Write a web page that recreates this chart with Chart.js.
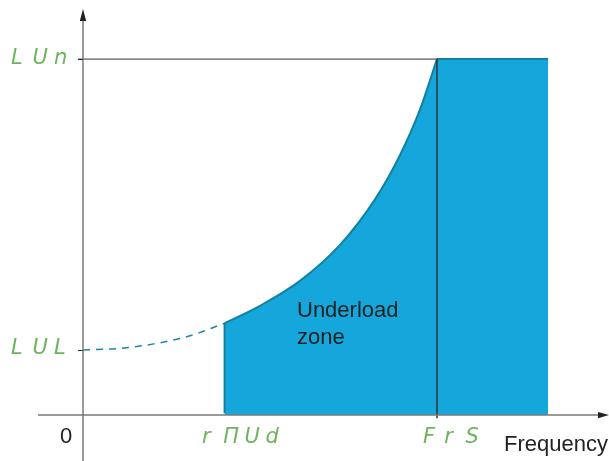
<!DOCTYPE html>
<html>
<head>
<meta charset="utf-8">
<script src="https://cdn.jsdelivr.net/npm/chart.js@4.4.1/dist/chart.umd.min.js"></script>
<style>
  html, body { margin: 0; padding: 0; background: #fff; }
  canvas { display: block; }
</style>
</head>
<body>
<canvas id="chart" width="609" height="461"></canvas>
<script>
// levels and frequencies (FrS = 100, LUn = 100)
const levels = { LUn: 100, LUL: 18.3 };
const freqs = { rMUd: 40, FrS: 100, end: 131.4 };

// underload curve
const curveF = [40, 50.0, 61.3, 72.6, 82.5, 89.5, 95.2, 100];
const curveL = [25.8, 30.7, 37.7, 47.8, 60.6, 72.9, 85.8, 100];

// dashed part below rMUd
const dashF = [0, 10, 20, 30, 40];
const dashL = [18.3, 18.7, 20.0, 22.2, 25.8];

const xLabels = [
  { chars: ['r', 'Π', 'U', 'd'], value: freqs.rMUd, left: 202 },
  { chars: ['F', 'r', 'S'], value: freqs.FrS, left: 423 }
];
const yLabels = [
  { chars: ['L', 'U', 'n'], value: levels.LUn },
  { chars: ['L', 'U', 'L'], value: levels.LUL }
];

const pts = (xs, ys) => xs.map((x, i) => ({ x: x, y: ys[i] }));

const blue = '#15a6dc';
const edge = '#10819f';
const green = '#6db55c';

const extras = {
  id: 'extras',
  afterDatasetsDraw(chart) {
    const ctx = chart.ctx;
    const xs = chart.scales.x, ys = chart.scales.y;
    const x0 = xs.getPixelForValue(0), y0 = ys.getPixelForValue(0);
    ctx.save();

    // axes
    ctx.strokeStyle = '#7a7a7a';
    ctx.lineWidth = 1.5;
    ctx.beginPath();
    ctx.moveTo(38, y0); ctx.lineTo(601, y0);
    ctx.moveTo(x0, 461); ctx.lineTo(x0, 18);
    ctx.stroke();

    // arrow heads
    ctx.fillStyle = '#222';
    ctx.beginPath();
    ctx.moveTo(x0, 9); ctx.lineTo(x0 - 3.2, 21); ctx.lineTo(x0 + 3.2, 21);
    ctx.closePath(); ctx.fill();
    ctx.beginPath();
    ctx.moveTo(609, y0); ctx.lineTo(598, y0 - 3.2); ctx.lineTo(598, y0 + 3.2);
    ctx.closePath(); ctx.fill();

    // ticks on y axis
    ctx.strokeStyle = '#333';
    ctx.lineWidth = 1;
    yLabels.forEach(l => {
      const y = Math.round(ys.getPixelForValue(l.value)) + 0.5;
      ctx.beginPath(); ctx.moveTo(x0 - 5, y); ctx.lineTo(x0, y); ctx.stroke();
    });

    // seven-segment style labels
    ctx.fillStyle = green;
    ctx.font = 'oblique 300 21px "DejaVu Sans"';
    ctx.textBaseline = 'middle';
    ctx.textAlign = 'left';
    yLabels.forEach(l => {
      const y = ys.getPixelForValue(l.value);
      l.chars.forEach((c, i) => ctx.fillText(c, 11 + i * 21.5, y - 1));
    });
    xLabels.forEach(l => {
      l.chars.forEach((c, i) => ctx.fillText(c, l.left + i * 21.2, 438));
    });

    // plain texts
    ctx.fillStyle = '#222';
    ctx.font = '22px "Liberation Sans", Arial, sans-serif';
    ctx.textBaseline = 'alphabetic';
    ctx.fillText('Underload', 297, 317);
    ctx.fillText('zone', 297, 344);
    ctx.fillText('0', 60, 443);
    ctx.fillText('Frequency', 504, 451);
    ctx.restore();
  }
};

new Chart(document.getElementById('chart'), {
  type: 'line',
  data: {
    datasets: [
      {
        label: 'Underload zone',
        data: pts(curveF, curveL),
        fill: 'origin',
        backgroundColor: blue,
        borderColor: edge,
        borderWidth: 2,
        cubicInterpolationMode: 'monotone',
        pointRadius: 0,
        order: 3
      },
      {
        label: 'Above FrS',
        data: [{ x: freqs.FrS, y: levels.LUn }, { x: freqs.end, y: levels.LUn }],
        fill: 'origin',
        backgroundColor: blue,
        borderColor: edge,
        borderWidth: 2,
        pointRadius: 0,
        order: 3
      },
      {
        label: 'rMUd edge',
        data: [{ x: freqs.rMUd, y: 0.5 }, { x: freqs.rMUd, y: curveL[0] }],
        borderColor: edge,
        borderWidth: 2,
        pointRadius: 0,
        order: 1
      },
      {
        label: 'below rMUd',
        data: pts(dashF, dashL),
        borderColor: '#1a86a6',
        borderWidth: 1.5,
        borderDash: [7, 6],
        cubicInterpolationMode: 'monotone',
        pointRadius: 0,
        order: 1
      },
      {
        label: 'LUn',
        data: [{ x: -1.4, y: levels.LUn }, { x: freqs.FrS, y: levels.LUn }],
        borderColor: '#333',
        borderWidth: 1,
        pointRadius: 0,
        order: 1
      },
      {
        label: 'FrS',
        data: [{ x: freqs.FrS, y: levels.LUn }, { x: freqs.FrS, y: -0.9 }],
        borderColor: '#333',
        borderWidth: 1.5,
        pointRadius: 0,
        order: 0
      }
    ]
  },
  options: {
    responsive: false,
    animation: false,
    devicePixelRatio: 1,
    layout: { padding: 0 },
    plugins: { legend: { display: false }, tooltip: { enabled: false } },
    scales: {
      x: { type: 'linear', display: false, min: -23.45, max: 148.6 },
      y: { type: 'linear', display: false, min: -12.9, max: 116.6 }
    }
  },
  plugins: [extras]
});
</script>
</body>
</html>
